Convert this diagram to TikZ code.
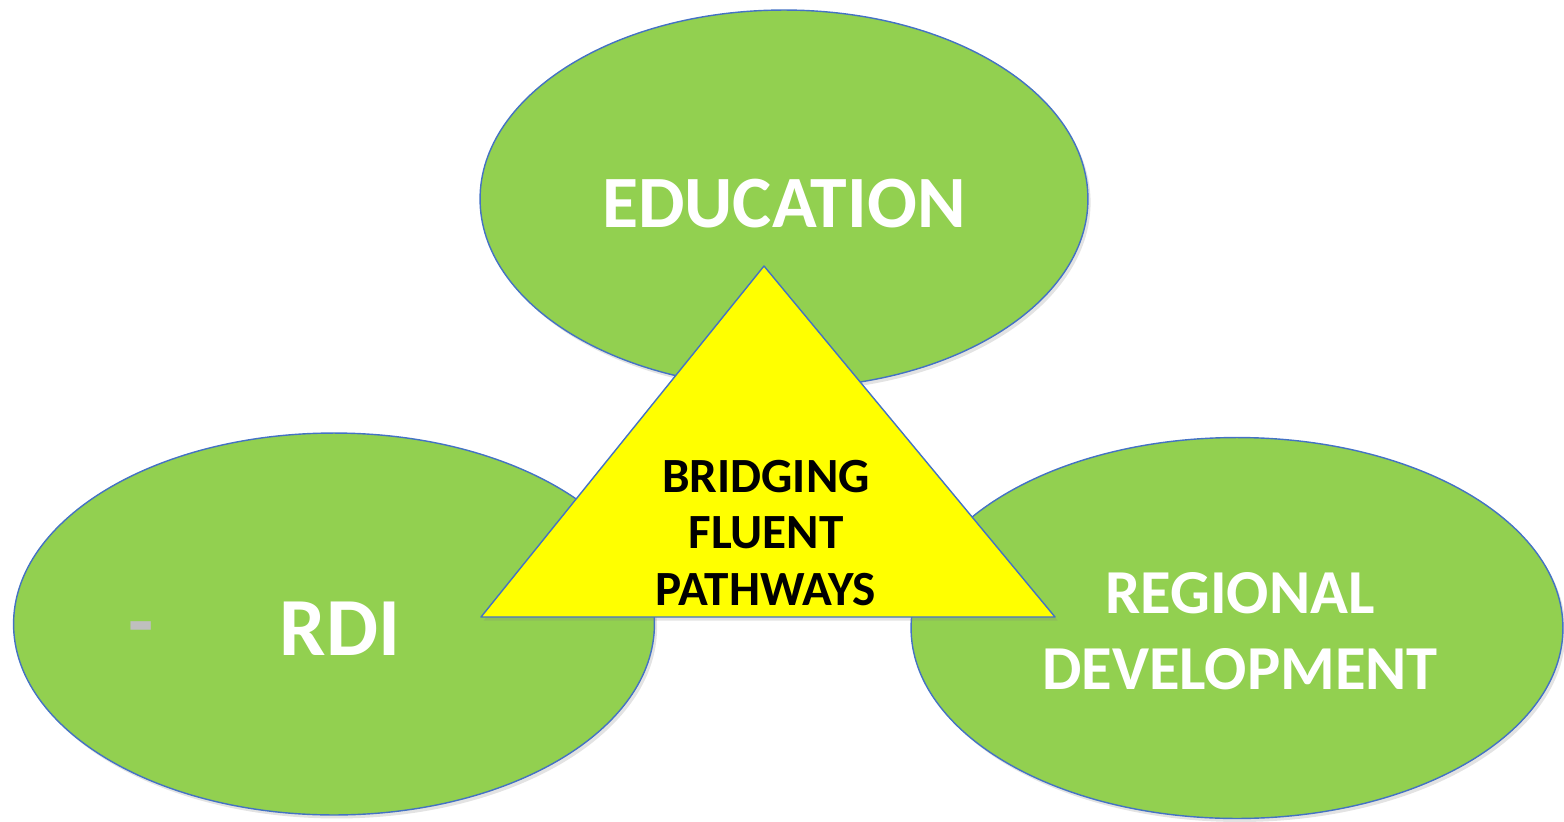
\documentclass[tikz,border=0pt]{standalone}
\usepackage{fontspec}
\setmainfont{Carlito}
\usetikzlibrary{shapes.geometric,shadows}
\definecolor{leafgreen}{HTML}{92D050}
\definecolor{edgeblue}{HTML}{4472C4}
\definecolor{dashgray}{HTML}{BFBFBF}
\definecolor{bridgeyellow}{HTML}{FFFF00}
\tikzset{
  softshadow/.style={drop shadow={opacity=0.22, shadow xshift=1.5pt, shadow yshift=-2pt}},
  pillar/.style={ellipse, draw=edgeblue, fill=leafgreen, line width=0.8pt, inner sep=0pt,
    text=white, font=\bfseries, align=center, softshadow},
}
\begin{document}
\begin{tikzpicture}[x=0.02cm,y=-0.02cm,line join=round]
  \useasboundingbox (0,0) rectangle (1564,821);
  % three pillars
  \node[pillar, minimum width=12.82cm, minimum height=7.64cm] (rdi) at (334,624) {};
  \node[pillar, minimum width=13.04cm, minimum height=7.62cm] (region) at (1237,628) {};
  \node[pillar, minimum width=12.16cm, minimum height=7.56cm] (edu) at (784,199) {};
  % pillar labels
  \node[text=white, font=\bfseries\fontsize{47}{50}\selectfont] (rdilabel) at (340,629) {RDI};
  \node[text=dashgray, font=\bfseries\fontsize{47}{50}\selectfont] (dash) at (141,636) {-};
  \node[text=white, align=center, font=\bfseries\fontsize{35.6}{43.2}\selectfont] (regionlabel)
    at (1240,631) {REGIONAL\\DEVELOPMENT};
  \node[text=white, font=\bfseries\fontsize{42}{46}\selectfont] (edulabel) at (784,204) {EDUCATION};
  % bridging triangle
  \path
  (764,266) coordinate (apex)
  (481,617) coordinate (left)
  (1055,617) coordinate (right);
  \path[draw=edgeblue, fill=bridgeyellow, line width=0.8pt, softshadow] (apex)--(left)--(right)--cycle;
  \node[align=center, font=\bfseries\fontsize{28}{32.4}\selectfont] (bridge) at (766,533)
    {BRIDGING\\FLUENT\\PATHWAYS};
\end{tikzpicture}
\end{document}
